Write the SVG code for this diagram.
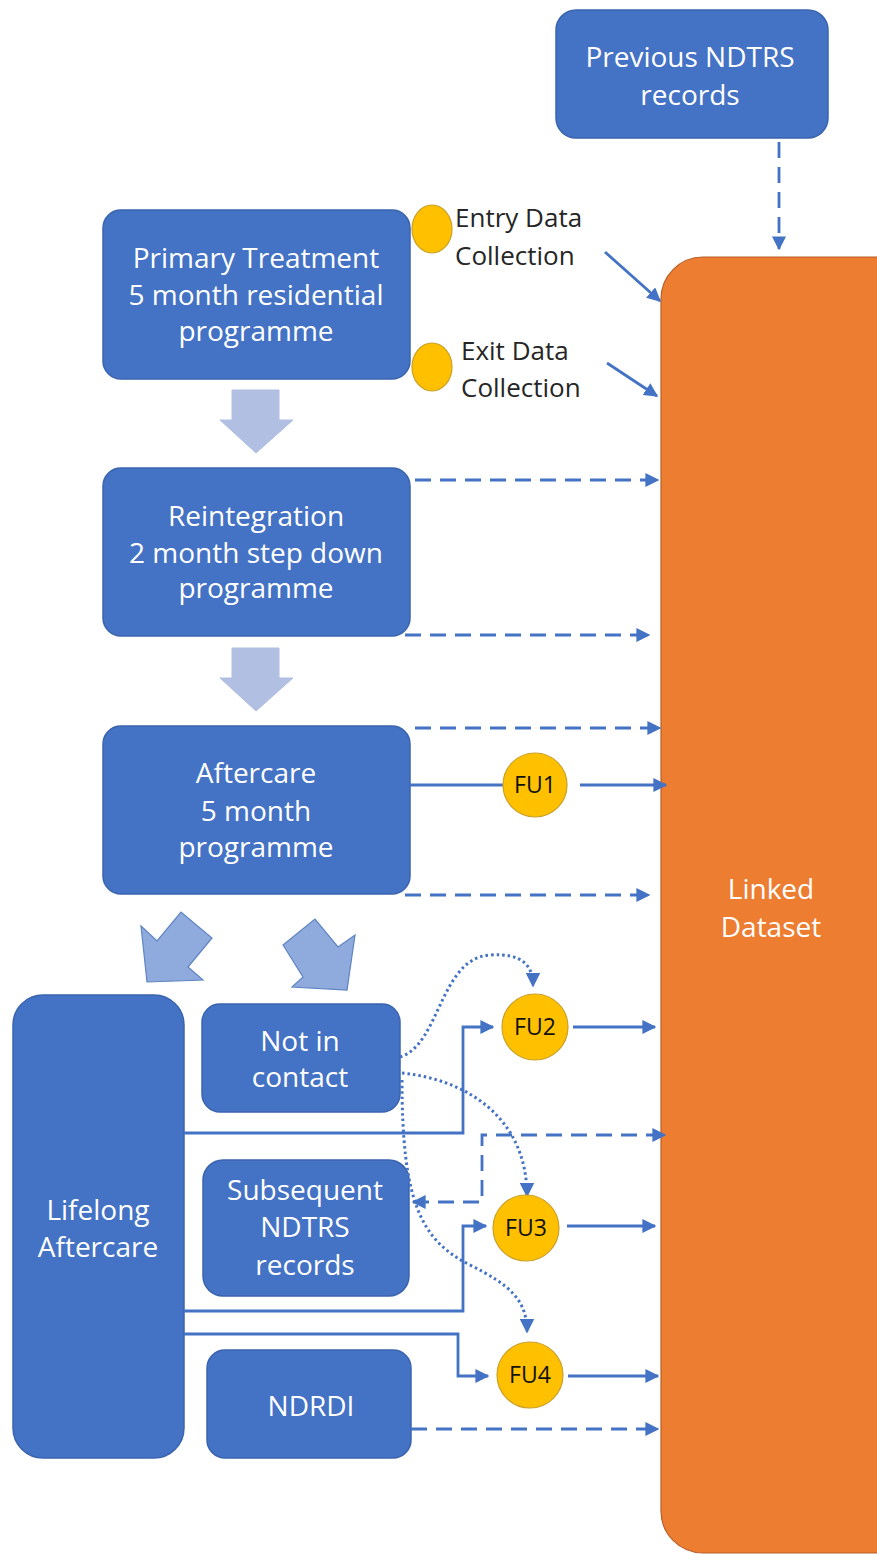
<svg xmlns="http://www.w3.org/2000/svg" width="877" height="1554" viewBox="0 0 877 1554">
<defs>
<style>
.box{fill:#4472C4;stroke:#3A64AE;stroke-width:1.5}
.wt{fill:#FFFFFF;font-family:"Open Sans","Liberation Sans",sans-serif;font-size:28px;text-anchor:middle}
.bt{fill:#262626;font-family:"Open Sans","Liberation Sans",sans-serif;font-size:26px}
.fu{fill:#FFC000;stroke:#C9A02A;stroke-width:1.2}
.fut{fill:#111111;font-family:"Open Sans","Liberation Sans",sans-serif;font-size:23px;text-anchor:middle}
.c{fill:none;stroke:#4472C4;stroke-width:2.8}
.d{stroke-dasharray:16 9}
.dot{stroke-dasharray:2.5 3;stroke-width:3}
.blk{fill:#B0BFE2;stroke:#B0BFE2;stroke-width:1}
.blk2{fill:#8FAADC;stroke:#5F84C2;stroke-width:1.2}
</style>
<marker id="ah" viewBox="0 0 10 10" refX="9" refY="5" markerWidth="5" markerHeight="5" orient="auto-start-reverse" markerUnits="strokeWidth">
<path d="M0,0 L10,5 L0,10 z" fill="#4472C4"/>
</marker>
</defs>

<g id="linked-dataset">
<rect x="661" y="257" width="260" height="1296" rx="42" fill="#ED7D31" stroke="#B8602A" stroke-width="1.2"/>
<text class="wt" x="771" y="899">Linked</text>
<text class="wt" x="771" y="937">Dataset</text>
</g>

<g id="previous-ndtrs">
<rect class="box" x="556" y="10" width="272" height="128" rx="20"/>
<text class="wt" x="690" y="67">Previous NDTRS</text>
<text class="wt" x="690" y="105">records</text>
</g>

<g id="primary-treatment">
<rect class="box" x="103" y="210" width="307" height="169" rx="18"/>
<text class="wt" x="256" y="268">Primary Treatment</text>
<text class="wt" x="256" y="305">5 month residential</text>
<text class="wt" x="256" y="341">programme</text>
</g>

<g id="entry-data">
<ellipse class="fu" cx="432" cy="229" rx="20" ry="24"/>
<text class="bt" x="455" y="227">Entry Data</text>
<text class="bt" x="455" y="265">Collection</text>
</g>

<g id="exit-data">
<ellipse class="fu" cx="432" cy="367" rx="20" ry="24"/>
<text class="bt" x="461" y="360">Exit Data</text>
<text class="bt" x="461" y="397">Collection</text>
</g>

<g id="arrow-down-1">
<polygon class="blk" points="232,390 279,390 279,420 293,420 256,453 220,420 232,420"/>
</g>

<g id="reintegration">
<rect class="box" x="103" y="468" width="307" height="168" rx="18"/>
<text class="wt" x="256" y="526">Reintegration</text>
<text class="wt" x="256" y="563">2 month step down</text>
<text class="wt" x="256" y="598">programme</text>
</g>

<g id="arrow-down-2">
<polygon class="blk" points="232,648 279,648 279,678 293,678 256,711 220,678 232,678"/>
</g>

<g id="aftercare">
<rect class="box" x="103" y="726" width="307" height="168" rx="18"/>
<text class="wt" x="256" y="783">Aftercare</text>
<text class="wt" x="256" y="821">5 month</text>
<text class="wt" x="256" y="857">programme</text>
</g>

<g id="arrow-diag-left">
<polygon class="blk2" points="141,926 157,941 181,912 212,938 188,967 203,980 147,982"/>
</g>
<g id="arrow-diag-right">
<polygon class="blk2" points="283,945 315,919 338,947 355,935 347,990 292,987 303,977"/>
</g>

<g id="lifelong-aftercare">
<rect class="box" x="13" y="995" width="171" height="463" rx="30"/>
<text class="wt" x="98" y="1220">Lifelong</text>
<text class="wt" x="98" y="1257">Aftercare</text>
</g>

<g id="not-in-contact">
<rect class="box" x="202" y="1004" width="198" height="108" rx="18"/>
<text class="wt" x="300" y="1051">Not in</text>
<text class="wt" x="300" y="1087">contact</text>
</g>

<g id="subsequent-ndtrs">
<rect class="box" x="203" y="1160" width="206" height="136" rx="20"/>
<text class="wt" x="305" y="1200">Subsequent</text>
<text class="wt" x="305" y="1237">NDTRS</text>
<text class="wt" x="305" y="1275">records</text>
</g>

<g id="ndrdi">
<rect class="box" x="207" y="1350" width="204" height="108" rx="18"/>
<text class="wt" x="311" y="1416">NDRDI</text>
</g>

<g id="connectors">
<path class="c d" d="M779,142 L779,249" marker-end="url(#ah)"/>
<path class="c" d="M605,252 L660,301" marker-end="url(#ah)"/>
<path class="c" d="M607,363 L657,396" marker-end="url(#ah)"/>
<path class="c d" d="M415,480 L658,480" marker-end="url(#ah)"/>
<path class="c d" d="M405,635 L649,635" marker-end="url(#ah)"/>
<path class="c d" d="M415,728 L660,728" marker-end="url(#ah)"/>
<path class="c" d="M410,785 L503,785"/>
<path class="c" d="M580,785 L666,785" marker-end="url(#ah)"/>
<path class="c d" d="M405,895 L649,895" marker-end="url(#ah)"/>
<path class="c" d="M184,1133 L463,1133 L463,1027 L493,1027" marker-end="url(#ah)"/>
<path class="c" d="M573,1027 L655,1027" marker-end="url(#ah)"/>
<path class="c d" d="M413,1202 L482,1202 L482,1135 L665,1135" marker-start="url(#ah)" marker-end="url(#ah)"/>
<path class="c" d="M184,1311 L463,1311 L463,1226 L486,1226" marker-end="url(#ah)"/>
<path class="c" d="M567,1226 L655,1226" marker-end="url(#ah)"/>
<path class="c" d="M184,1334 L458,1334 L458,1376 L488,1376" marker-end="url(#ah)"/>
<path class="c" d="M568,1376 L658,1376" marker-end="url(#ah)"/>
<path class="c d" d="M411,1429 L658,1429" marker-end="url(#ah)"/>
<path class="c dot" d="M400,1057 C440,1045 440,958 490,955 C522,953 533,965 533,986" marker-end="url(#ah)"/>
<path class="c dot" d="M402,1073 C470,1080 527,1120 527,1196" marker-end="url(#ah)"/>
<path class="c dot" d="M402,1080 C402,1200 420,1240 470,1265 C510,1285 527,1300 527,1332" marker-end="url(#ah)"/>
</g>

<g id="fu1">
<circle class="fu" cx="535" cy="785" r="32"/>
<text class="fut" x="535" y="793">FU1</text>
</g>
<g id="fu2">
<circle class="fu" cx="535" cy="1027" r="33"/>
<text class="fut" x="535" y="1035">FU2</text>
</g>
<g id="fu3">
<circle class="fu" cx="526" cy="1228" r="33"/>
<text class="fut" x="526" y="1236">FU3</text>
</g>
<g id="fu4">
<circle class="fu" cx="530" cy="1375" r="33"/>
<text class="fut" x="530" y="1383">FU4</text>
</g>
</svg>
